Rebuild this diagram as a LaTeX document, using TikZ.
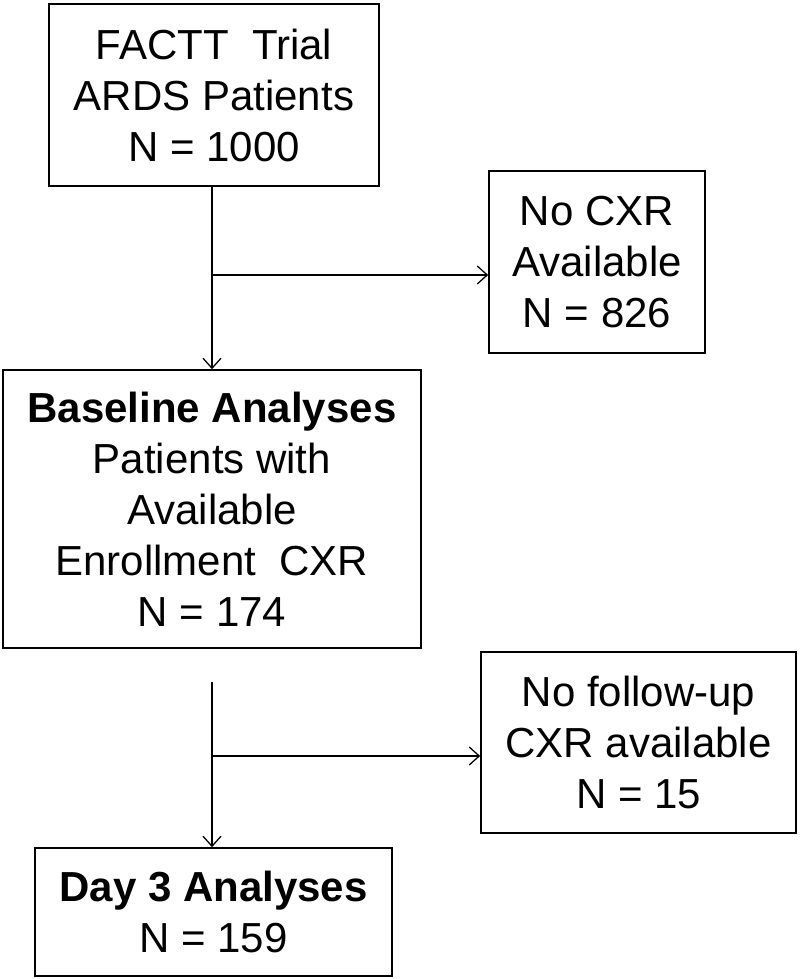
\documentclass[tikz,border=0pt]{standalone}
\usepackage{fontspec}
\setmainfont{Liberation Sans}
\usetikzlibrary{arrows.meta}
\begin{document}
\begin{tikzpicture}[x=1pt, y=-1pt,
		box/.style={draw, line width=1.6pt, inner sep=0pt, align=center, font=\fontsize{42}{51}\selectfont},
		arr/.style={line width=1.3pt, -{Straight Barb[length=10pt, width=18pt, line width=1.3pt]}}]
			\useasboundingbox (0,0) rectangle (800,979);
			\node[box, minimum width=330, minimum height=182] (trial) at (214,95) {FACTT\ \ Trial\\ARDS Patients\\N = 1000};
			\node[box, minimum width=216, minimum height=182] (nocxr) at (597,262) {No CXR\\Available\\N = 826};
			\node[box, minimum width=418, minimum height=278] (baseline) at (212,509) {\textbf{Baseline Analyses}\\Patients with\\Available\\Enrollment\ \ CXR\\N = 174};
			\node[box, minimum width=315, minimum height=181] (nofollow) at (638.5,742.5) {No follow-up\\CXR available\\N = 15};
			\node[box, minimum width=357, minimum height=128] (day3) at (213.5,912) {\textbf{Day 3 Analyses}\\N = 159};
			\coordinate (b1) at (212,275);
			\coordinate (s2) at (212,682);
			\coordinate (b2) at (212,756);
			\draw[arr] (b1 |- trial.south) -- (b1 |- baseline.north);
			\draw[arr] (b1) -- (nocxr.west |- b1);
			\draw[arr] (s2) -- (s2 |- day3.north);
			\draw[arr] (b2) -- (nofollow.west |- b2);
		\end{tikzpicture}
\end{document}
